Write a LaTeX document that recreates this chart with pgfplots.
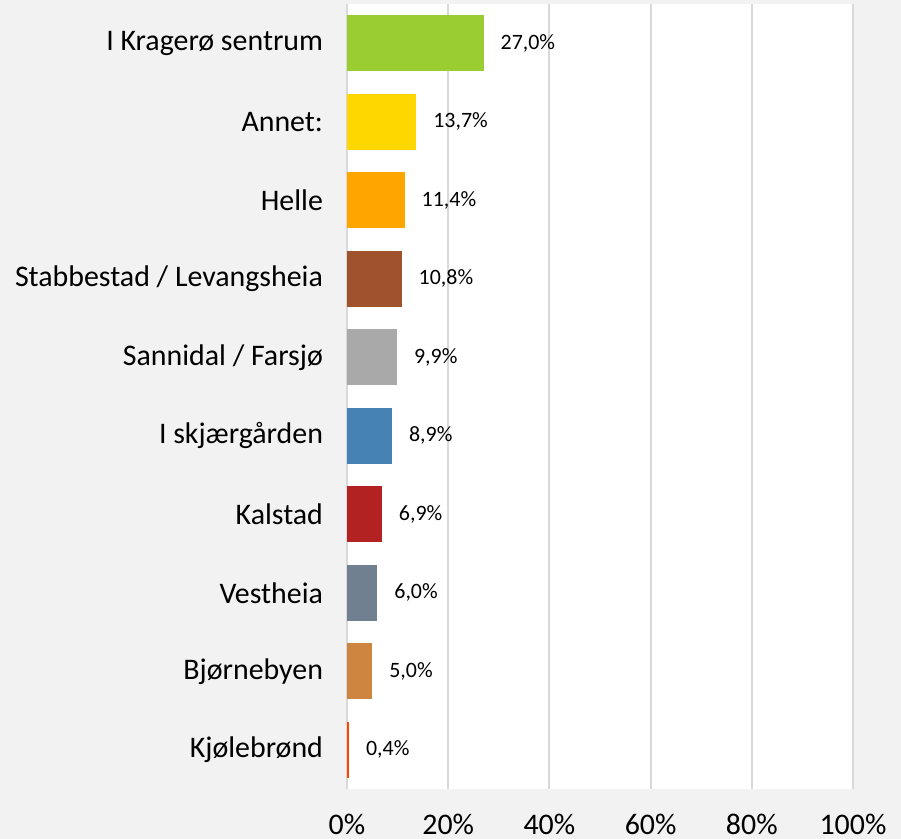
\documentclass[border=0pt]{standalone}
\usepackage{pgfplots}
\pgfplotsset{compat=1.18}
\usepackage{fontspec}
\setmainfont{Carlito}
\definecolor{bgc}{HTML}{F2F2F2}
\definecolor{gridc}{HTML}{D9D9D9}
\definecolor{c1}{HTML}{9ACD32}
\definecolor{c2}{HTML}{FFD700}
\definecolor{c3}{HTML}{FFA500}
\definecolor{c4}{HTML}{A0522D}
\definecolor{c5}{HTML}{A9A9A9}
\definecolor{c6}{HTML}{4682B4}
\definecolor{c7}{HTML}{B22222}
\definecolor{c8}{HTML}{708090}
\definecolor{c9}{HTML}{CD853F}
\definecolor{c10}{HTML}{FF4500}
\begin{document}
\begin{tikzpicture}
\fill[bgc] (-173.5bp,-25bp) rectangle (277bp,394.5bp);
\begin{axis}[
  at={(0,0)}, anchor=south west,
  scale only axis,
  width=253bp, height=392.5bp,
  xbar, bar shift=0pt, bar width=0.713,
  xmin=0, xmax=100,
  ymin=-0.5, ymax=9.5,
  y dir=reverse,
  ytick={0,1,2,3,4,5,6,7,8,9},
  yticklabels={I Kragerø sentrum,Annet:,Helle,Stabbestad / Levangsheia,Sannidal / Farsjø,I skjærgården,Kalstad,Vestheia,Bjørnebyen,Kjølebrønd},
  xtick={0,20,40,60,80,100},
  xticklabels={0\%,20\%,40\%,60\%,80\%,100\%},
  /pgf/number format/assume math mode=true,
  xmajorgrids,
  grid style={draw=gridc, line width=1bp},
  axis line style={draw=none},
  major tick length=0pt,
  tick style={draw=none},
  axis background/.style={fill=white},
  yticklabel style={font=\fontsize{15}{18}\selectfont, xshift=-8.5bp},
  xticklabel style={font=\fontsize{15}{18}\selectfont, yshift=-9bp},
  nodes near coords,
  point meta=explicit symbolic,
  nodes near coords style={anchor=west, xshift=5bp, font=\fontsize{11}{13}\selectfont, text=black},
]
\addplot[fill=c1, draw=none] coordinates {(27.0,0)[27,0\%]};
\addplot[fill=c2, draw=none] coordinates {(13.7,1)[13,7\%]};
\addplot[fill=c3, draw=none] coordinates {(11.4,2)[11,4\%]};
\addplot[fill=c4, draw=none] coordinates {(10.8,3)[10,8\%]};
\addplot[fill=c5, draw=none] coordinates {(9.9,4)[9,9\%]};
\addplot[fill=c6, draw=none] coordinates {(8.9,5)[8,9\%]};
\addplot[fill=c7, draw=none] coordinates {(6.9,6)[6,9\%]};
\addplot[fill=c8, draw=none] coordinates {(6.0,7)[6,0\%]};
\addplot[fill=c9, draw=none] coordinates {(5.0,8)[5,0\%]};
\addplot[fill=c10, draw=none] coordinates {(0.4,9)[0,4\%]};
\end{axis}
\pgfresetboundingbox
\path[use as bounding box] (-173.5bp,-25bp) rectangle (277bp,394.5bp);
\end{tikzpicture}
\end{document}
